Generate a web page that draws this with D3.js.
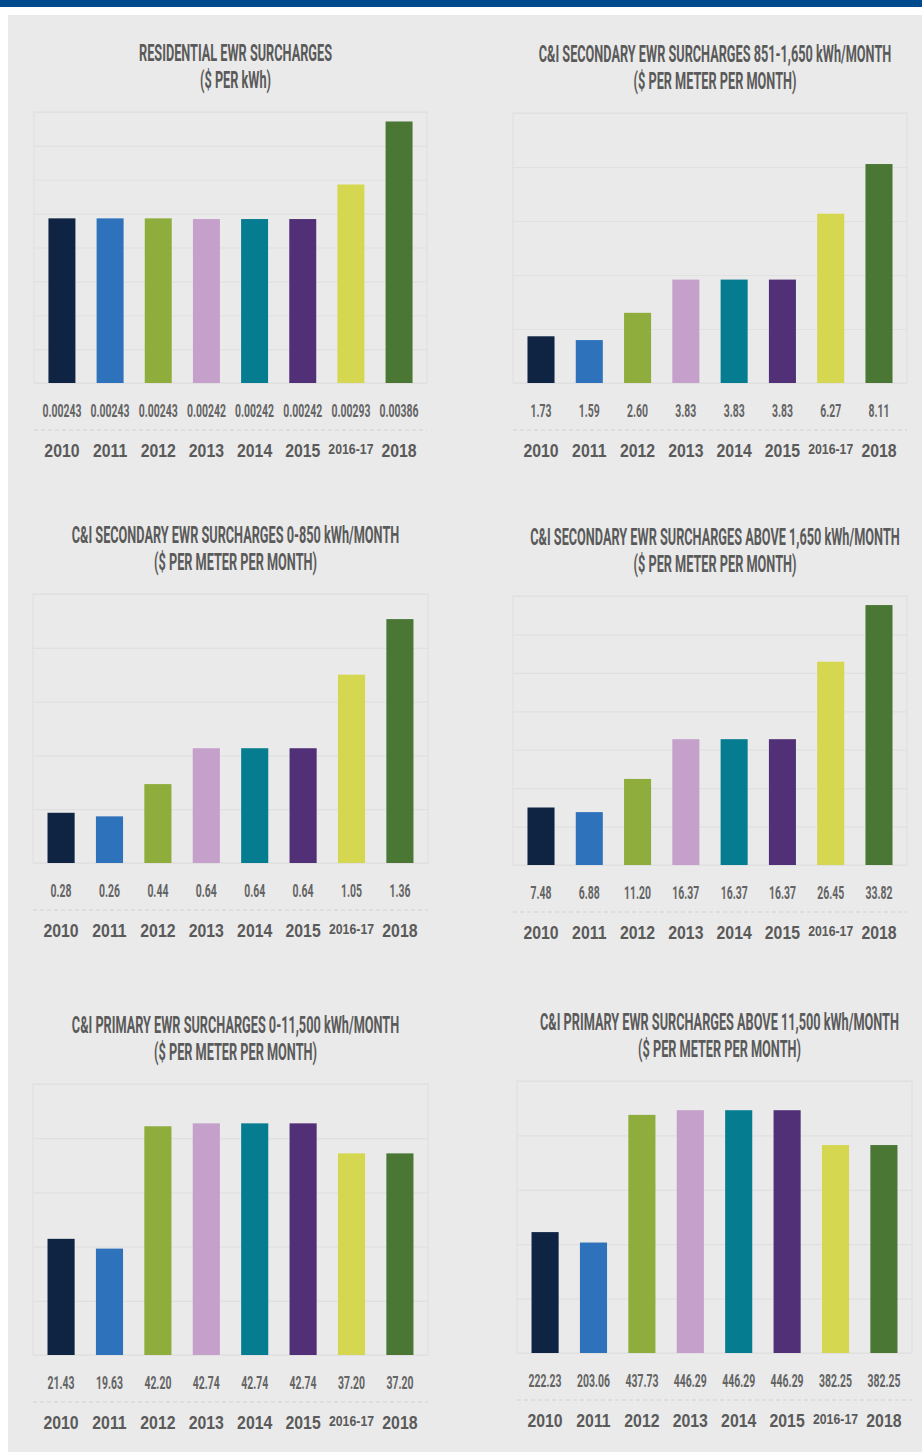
<!DOCTYPE html>
<html>
<head>
<meta charset="utf-8">
<script src="https://cdn.jsdelivr.net/npm/d3@7"></script>
<style>
  html, body { margin: 0; padding: 0; background: #fff; }
  svg { display: block; }
</style>
</head>
<body>
<div id="grafico"></div>
<script>
/* Datos */
const years = ['2010', '2011', '2012', '2013', '2014', '2015', '2016-17', '2018'];
const residential = [0.00243, 0.00243, 0.00243, 0.00242, 0.00242, 0.00242, 0.00293, 0.00386];
const secondary851 = [1.73, 1.59, 2.60, 3.83, 3.83, 3.83, 6.27, 8.11];
const secondary0 = [0.28, 0.26, 0.44, 0.64, 0.64, 0.64, 1.05, 1.36];
const secondaryAbove = [7.48, 6.88, 11.20, 16.37, 16.37, 16.37, 26.45, 33.82];
const primary0 = [21.43, 19.63, 42.20, 42.74, 42.74, 42.74, 37.20, 37.20];
const primaryAbove = [222.23, 203.06, 437.73, 446.29, 446.29, 446.29, 382.25, 382.25];

const titles = [
  'RESIDENTIAL EWR SURCHARGES',
  'C&I SECONDARY EWR SURCHARGES 851-1,650 kWh/MONTH',
  'C&I SECONDARY EWR SURCHARGES 0-850 kWh/MONTH',
  'C&I SECONDARY EWR SURCHARGES ABOVE 1,650 kWh/MONTH',
  'C&I PRIMARY EWR SURCHARGES 0-11,500 kWh/MONTH',
  'C&I PRIMARY EWR SURCHARGES ABOVE 11,500 kWh/MONTH'
];
const subtitles = ['($ PER kWh)', '($ PER METER PER MONTH)', '($ PER METER PER MONTH)',
  '($ PER METER PER MONTH)', '($ PER METER PER MONTH)', '($ PER METER PER MONTH)'];
const series = [residential, secondary851, secondary0, secondaryAbove, primary0, primaryAbove];
const decimals = [5, 2, 2, 2, 2, 2];
const yMax = [0.004, 10, 1.5, 35, 50, 500];   /* tope del eje */
const yStep = [0.0005, 2, 0.3, 5, 10, 100];   /* líneas de grilla */

const colors = ['#0e2442', '#2e72bb', '#8fad3c', '#c4a0cb', '#067c91', '#523077', '#d6d751', '#4a7734'];

/* Marcos de cada gráfico: x0, x1, y0, y1 */
const frames = [
  [34, 427, 112, 383],
  [513, 907, 113, 383],
  [33, 428, 594, 863],
  [513, 907, 596, 865],
  [33, 428, 1084, 1355],
  [517, 912, 1081, 1353]
];

const w = 922;
const h = 1452;

const svg = d3.select('#grafico')
  .append('svg')
  .attr('width', w)
  .attr('height', h);

/* Fondo */
svg.append('rect').attr('x', 0).attr('y', 0).attr('width', w).attr('height', h).attr('fill', '#ffffff');
svg.append('rect').attr('x', 0).attr('y', 0).attr('width', w).attr('height', 7).attr('fill', '#004b8d');
svg.append('rect').attr('x', 8).attr('y', 15).attr('width', w - 8).attr('height', h - 15).attr('fill', '#eaeaea');

const titleScale = 0.53;
const valueScale = 0.55;

series.forEach((data, i) => {
  const [x0, x1, y0, y1] = frames[i];
  const g = svg.append('g');

  const xScale = d3.scaleBand()
    .domain(years)
    .range([x0, x1])
    .paddingInner(0.44)
    .paddingOuter(0.3);

  const yScale = d3.scaleLinear()
    .domain([0, yMax[i]])
    .range([y1, y0]);

  /* Marco */
  g.append('rect')
    .attr('x', x0)
    .attr('y', y0)
    .attr('width', x1 - x0)
    .attr('height', y1 - y0)
    .attr('fill', 'none')
    .attr('stroke', '#e0e0e0')
    .attr('stroke-width', 1.2);

  /* Grilla */
  const ticks = d3.range(0, yMax[i] + yStep[i] / 2, yStep[i]);
  const grid = g.append('g')
    .attr('transform', `translate(${x0},0)`)
    .call(d3.axisLeft(yScale).tickValues(ticks).tickSize(-(x1 - x0)).tickFormat(''));
  grid.select('.domain').remove();
  grid.selectAll('line').attr('stroke', '#e0e0e0').attr('stroke-width', 1.2);

  /* Título */
  const cx = (x0 + x1) / 2 + 5;
  [titles[i], subtitles[i]].forEach((t, k) => {
    g.append('text')
      .attr('transform', `translate(${cx},${y0 - 51 + k * 27}) scale(${titleScale},1)`)
      .attr('text-anchor', 'middle')
      .attr('font-family', 'Roboto, sans-serif')
      .attr('font-weight', 700)
      .attr('font-size', 24)
      .attr('fill', '#5a5a5a')
      .text(t);
  });

  /* Barras */
  g.selectAll('rect.bar')
    .data(data)
    .enter()
    .append('rect')
    .attr('class', 'bar')
    .attr('x', (d, j) => xScale(years[j]))
    .attr('y', (d) => yScale(d))
    .attr('width', xScale.bandwidth())
    .attr('height', (d) => y1 - yScale(d))
    .attr('fill', (d, j) => colors[j]);

  /* Valores */
  g.selectAll('text.val')
    .data(data)
    .enter()
    .append('text')
    .attr('class', 'val')
    .attr('transform', (d, j) => `translate(${xScale(years[j]) + xScale.bandwidth() / 2},${y1 + 34}) scale(${valueScale},1)`)
    .attr('text-anchor', 'middle')
    .attr('font-family', 'Roboto, sans-serif')
    .attr('font-weight', 700)
    .attr('font-size', 19)
    .attr('fill', '#646464')
    .text((d) => d.toFixed(decimals[i]));

  /* Línea punteada */
  g.append('line')
    .attr('x1', x0)
    .attr('x2', x1)
    .attr('y1', y1 + 47)
    .attr('y2', y1 + 47)
    .attr('stroke', '#d2d2d2')
    .attr('stroke-width', 1)
    .attr('stroke-dasharray', '4,3');

  /* Años */
  const ax = g.append('g')
    .attr('transform', `translate(0,${y1 + 74})`)
    .call(d3.axisBottom(xScale).tickSize(0));
  ax.select('.domain').remove();
  ax.selectAll('.tick')
    .attr('transform', (d) => `translate(${xScale(d) + xScale.bandwidth() / 2},0) scale(0.88,1)`);
  ax.selectAll('.tick text')
    .attr('y', 0)
    .attr('dy', (d) => d === '2016-17' ? -3 : 0)
    .attr('font-family', '"Liberation Sans", Arial, sans-serif')
    .attr('font-weight', 'bold')
    .attr('font-size', (d) => d === '2016-17' ? 14 : 18)
    .attr('fill', '#5a5a5a');
});
</script>
</body>
</html>
